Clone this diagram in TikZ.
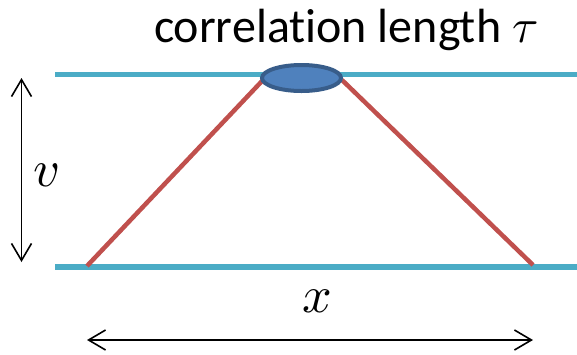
\documentclass[tikz,border=0pt]{standalone}
\usepackage{fontspec}
\usepackage{unicode-math}
\setmainfont[Ligatures=NoCommon]{Carlito}
\setmathfont{Latin Modern Math}
\usetikzlibrary{arrows.meta,shapes.geometric}
\definecolor{lineblue}{HTML}{4BACC6}
\definecolor{linered}{HTML}{C0504D}
\definecolor{ellfill}{HTML}{4F81BD}
\definecolor{elldraw}{HTML}{385D8A}
\begin{document}
\begin{tikzpicture}[x=1pt,y=-1pt,
  rail/.style={lineblue,line width=5.5pt},
  leg/.style={linered,line width=4.5pt},
  corr/.style={ellipse,draw=elldraw,fill=ellfill,line width=4pt,minimum width=79pt,minimum height=26pt,inner sep=0pt},
  dim/.style={black,line width=1.6pt,{Straight Barb[length=17pt,width=20pt]}-{Straight Barb[length=17pt,width=20pt]}},
  lab/.style={inner sep=0pt,font=\fontsize{52}{56}\selectfont}]
\useasboundingbox (0,0) rectangle (577,354);
\coordinate (t1) at (55,74.5);
\coordinate (t2) at (577,74.5);
\coordinate (b1) at (55,267);
\coordinate (b2) at (577,267);
\draw[rail] (t1) -- (t2);
\draw[rail] (b1) -- (b2);
\coordinate (la) at (263,80);
\coordinate (lb) at (87,266);
\coordinate (ra) at (342,80);
\coordinate (rb) at (533,265);
\draw[leg] (la) -- (lb);
\draw[leg] (ra) -- (rb);
\node[corr] (e) at (301.5,78) {};
\node[anchor=base,inner sep=0pt] (title) at (346,42) {\fontsize{48}{52}\selectfont correlation length $\tau$};
\coordinate (va) at (21.5,78);
\coordinate (vb) at (21.5,262);
\draw[dim] (va) -- (vb);
\node[lab] (v) at (46,175) {$v$};
\coordinate (xa) at (87,340);
\coordinate (xb) at (533,340);
\draw[dim] (xa) -- (xb);
\node[lab] (x) at (317,301) {$x$};
\end{tikzpicture}
\end{document}
